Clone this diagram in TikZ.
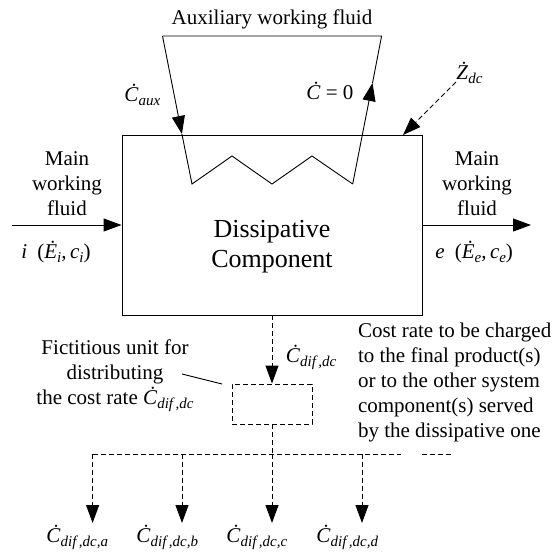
\documentclass[tikz,border=0pt]{standalone}
\usepackage{fontspec}
\setmainfont{Liberation Serif}
\usetikzlibrary{arrows.meta}
\newcommand\sbs[1]{\raisebox{-4.5pt}{\fontsize{15}{15}\selectfont\itshape #1}}
\newcommand\Cd{\textit{Ċ}}
\begin{document}
\begin{tikzpicture}[x=1pt,y=-1pt,
  line width=0.9pt,
  arr/.style={-{Triangle[length=18pt,width=13pt]}},
  dsh/.style={dash pattern=on 5pt off 3pt},
  txt/.style={font=\fontsize{21}{25}\selectfont, inner sep=0pt},
  big/.style={font=\fontsize{26}{30}\selectfont, inner sep=0pt, align=center}]
\useasboundingbox (0,0) rectangle (552,555);
% main component
\node[draw, minimum width=300pt, minimum height=180pt, inner sep=0pt] (dc) at (272,225) {};
\node[big] (dctext) at (272,247) {Dissipative\\Component};
% auxiliary working fluid loop
\coordinate (atl) at (162.5,36);
\coordinate (atr) at (381.6,36);
\coordinate (ain) at (181.9,134);
\coordinate (aout) at (372.5,83);
\coordinate (z0) at (192,184);
\coordinate (z1) at (232,156);
\coordinate (z2) at (272,184);
\coordinate (z3) at (312,156);
\coordinate (z4) at (352.7,184);
\draw (aout) -- (atr) -- (atl);
\draw[arr] (atl) -- (ain);
\draw (ain) -- (z0) -- (z1) -- (z2) -- (z3) -- (z4);
\draw[arr] (z4) -- (aout);
\node[txt, anchor=base] (auxl) at (272,24) {Auxiliary working fluid};
\node[txt, anchor=base west] (caux) at (124,101) {\Cd\sbs{aux}};
\node[txt, anchor=base west] (czero) at (306,99) {\Cd{} = 0};
\node[txt, anchor=base west] (zdc) at (456,79) {\textit{Ż}\sbs{dc}};
\coordinate (zs) at (456,82);
\coordinate (ztip) at (403,135);
\draw[dsh, arr] (zs) -- (ztip);
% main working fluid
\node[txt, align=center] (mwl) at (67,184) {Main\\working\\fluid};
\node[txt, align=center] (mwr) at (477,184) {Main\\working\\fluid};
\coordinate (inS) at (12,225);
\coordinate (outE) at (531,225);
\draw[arr] (inS) -- (dc.west);
\draw[arr] (dc.east) -- (outE);
\node[txt, anchor=base west] (il) at (21,258) {\textit{i}\hspace{10pt}(\textit{Ė}\sbs{i},\,\textit{c}\sbs{i})};
\node[txt, anchor=base west] (el) at (435,258) {\textit{e}\hspace{10pt}(\textit{Ė}\sbs{e},\,\textit{c}\sbs{e})};
% fictitious unit
\node[draw, dsh, minimum width=80pt, minimum height=40pt, inner sep=0pt] (fu) at (272,404) {};
\draw[dsh, arr] (dc.south) -- (fu.north);
\node[txt, anchor=base west] (cdd) at (285.5,362) {\Cd\sbs{dif\,,dc}};
\node[txt, align=center, anchor=base] (fic) at (115,404) {Fictitious unit for\\distributing\\the cost rate \Cd\sbs{dif\,,dc}};
\coordinate (fp0) at (182,374);
\coordinate (fp1) at (222,384);
\draw (fp0) -- (fp1);
\node[txt, align=left, anchor=base west] (cost) at (357.6,437) {Cost rate to be charged\\to the final product(s)\\or to the other system\\component(s) served\\by the dissipative one};
% distribution
\coordinate (ha) at (92.6,454);
\coordinate (hb) at (182,454);
\coordinate (hc) at (272,454);
\coordinate (hd) at (362,454);
\coordinate (hend) at (401,454);
\coordinate (he1) at (422,454);
\coordinate (he2) at (452,454);
\draw[dsh] (fu.south) -- (hc);
\draw[dsh] (ha) -- (hend);
\draw[dsh] (he1) -- (he2);
\coordinate (ta) at (92.6,523);
\coordinate (tb) at (182,523);
\coordinate (tc) at (272,523);
\coordinate (td) at (362,523);
\draw[dsh, arr] (ha) -- (ta);
\draw[dsh, arr] (hb) -- (tb);
\draw[dsh, arr] (hc) -- (tc);
\draw[dsh, arr] (hd) -- (td);
\node[txt, anchor=base west] (la) at (46,542) {\Cd\sbs{dif\,,dc,a}};
\node[txt, anchor=base west] (lb) at (136,542) {\Cd\sbs{dif\,,dc,b}};
\node[txt, anchor=base west] (lc) at (226,542) {\Cd\sbs{dif\,,dc,c}};
\node[txt, anchor=base west] (ld) at (316,542) {\Cd\sbs{dif\,,dc,d}};
\end{tikzpicture}
\end{document}
